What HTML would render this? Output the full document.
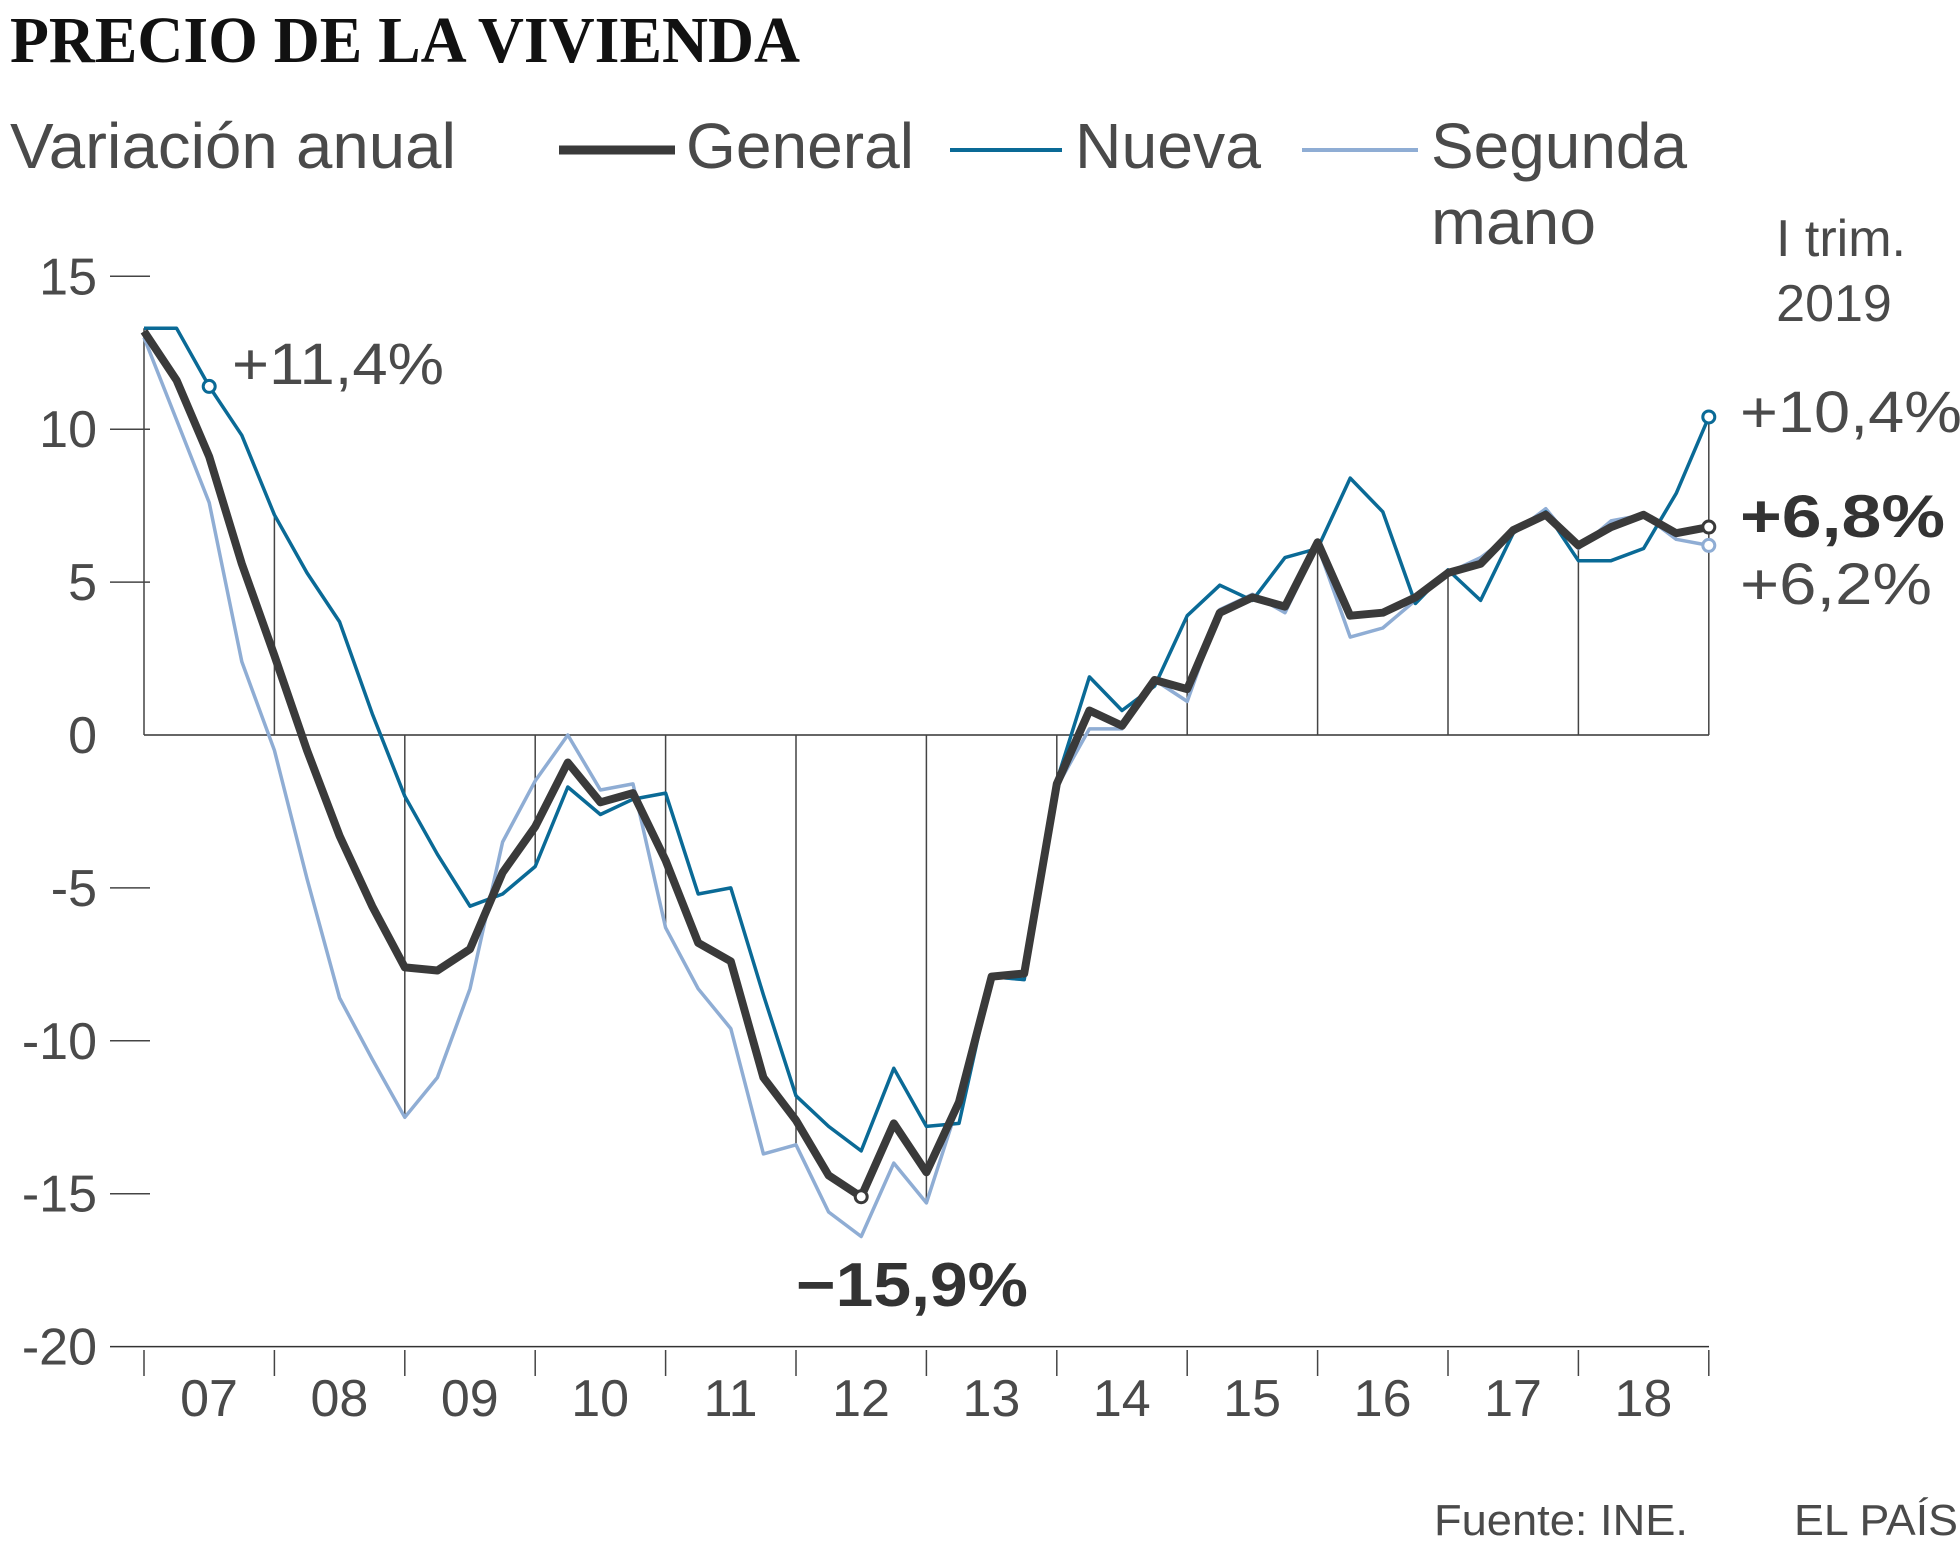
<!DOCTYPE html>
<html><head><meta charset="utf-8"><style>
html,body{margin:0;padding:0;background:#fff;width:1960px;height:1558px;overflow:hidden}
svg{display:block}
.t{font-family:"Liberation Sans Narrow","Liberation Sans",sans-serif;fill:#4a4a4a}
</style></head><body>
<svg id="s" width="1960" height="1558" viewBox="0 0 1960 1558" xmlns="http://www.w3.org/2000/svg">
<text x="10" y="62" font-family="Liberation Serif,serif" font-weight="bold" font-size="66" fill="#111" textLength="790" lengthAdjust="spacingAndGlyphs">PRECIO DE LA VIVIENDA</text>
<text class="t" x="10" y="168" font-size="64" textLength="446" lengthAdjust="spacingAndGlyphs">Variación anual</text>
<line x1="559" y1="150" x2="675" y2="150" stroke="#3a3a3a" stroke-width="9"/>
<text class="t" x="686" y="168" font-size="64" textLength="228" lengthAdjust="spacingAndGlyphs">General</text>
<line x1="950" y1="150" x2="1062" y2="150" stroke="#0a6a96" stroke-width="4"/>
<text class="t" x="1075" y="168" font-size="64" textLength="186" lengthAdjust="spacingAndGlyphs">Nueva</text>
<line x1="1302" y1="150" x2="1418" y2="150" stroke="#8fadd4" stroke-width="4"/>
<text class="t" x="1431" y="168" font-size="64" textLength="256" lengthAdjust="spacingAndGlyphs">Segunda</text>
<text class="t" x="1431" y="244" font-size="64" textLength="165" lengthAdjust="spacingAndGlyphs">mano</text>
<text class="t" x="1906" y="256" font-size="52" text-anchor="end">I trim.</text>
<text class="t" x="1834" y="321" font-size="52" text-anchor="middle">2019</text>
<g id="g"></g>
<text class="t" x="232" y="384" font-size="58" textLength="212" lengthAdjust="spacingAndGlyphs">+11,4%</text>
<text class="t" x="1740" y="432" font-size="58" textLength="222" lengthAdjust="spacingAndGlyphs">+10,4%</text>
<text class="t" x="1740" y="537" font-size="60" font-weight="bold" fill="#333" textLength="205" lengthAdjust="spacingAndGlyphs" style="fill:#333">+6,8%</text>
<text class="t" x="1740" y="604" font-size="58" textLength="192" lengthAdjust="spacingAndGlyphs">+6,2%</text>
<text class="t" x="912" y="1306" font-size="62" font-weight="bold" text-anchor="middle" textLength="232" lengthAdjust="spacingAndGlyphs" style="fill:#333">−15,9%</text>
<text class="t" x="1434" y="1535" font-size="44" fill="#555" textLength="254" lengthAdjust="spacingAndGlyphs">Fuente: INE.</text>
<text class="t" x="1794" y="1535" font-size="44" textLength="164" lengthAdjust="spacingAndGlyphs">EL PAÍS</text>
</svg>
<script>
var G=[13.2,11.6,9.1,5.6,2.6,-0.5,-3.3,-5.6,-7.6,-7.7,-7.0,-4.5,-3.0,-0.9,-2.2,-1.9,-4.1,-6.8,-7.4,-11.2,-12.6,-14.4,-15.1,-12.7,-14.3,-12.0,-7.9,-7.8,-1.6,0.8,0.3,1.8,1.5,4.0,4.5,4.2,6.3,3.9,4.0,4.5,5.3,5.6,6.7,7.2,6.2,6.8,7.2,6.6,6.8];
var N=[13.3,13.3,11.4,9.8,7.2,5.3,3.7,0.7,-2.0,-3.9,-5.6,-5.2,-4.3,-1.7,-2.6,-2.1,-1.9,-5.2,-5.0,-8.5,-11.8,-12.8,-13.6,-10.9,-12.8,-12.7,-7.9,-8.0,-1.5,1.9,0.8,1.6,3.9,4.9,4.4,5.8,6.1,8.4,7.3,4.3,5.4,4.4,6.6,7.3,5.7,5.7,6.1,7.9,10.4];
var S=[13.0,10.3,7.6,2.4,-0.5,-4.7,-8.6,-10.6,-12.5,-11.2,-8.3,-3.5,-1.5,0.0,-1.8,-1.6,-6.3,-8.3,-9.6,-13.7,-13.4,-15.6,-16.4,-14.0,-15.3,-12.0,-7.9,-8.0,-1.7,0.2,0.2,1.8,1.1,4.1,4.6,4.0,6.2,3.2,3.5,4.4,5.3,5.8,6.6,7.4,6.1,7.0,7.2,6.4,6.2];
function X(i){return 144+32.6*i}function Y(v){return 735-v*30.58}
var h='';
[15,10,5,0,-5,-10,-15,-20].forEach(function(v){var y=Y(v);
h+='<text class="t" x="97" y="'+(y+18)+'" font-size="52" text-anchor="end">'+v+'</text>';
if(v!=0&&v!=-20)h+='<line x1="110" x2="150" y1="'+y+'" y2="'+y+'" stroke="#444" stroke-width="1.5"/>';});
h+='<line x1="144" x2="1709" y1="735" y2="735" stroke="#333" stroke-width="1.5"/>';
h+='<line x1="110" x2="1709" y1="'+Y(-20)+'" y2="'+Y(-20)+'" stroke="#333" stroke-width="1.5"/>';
for(var k=0;k<=12;k++){var i=k*4,x=X(i);var mx=Math.max(G[i],N[i],S[i]),mn=Math.min(G[i],N[i],S[i]);var e=mx>0?mx:mn;
h+='<line x1="'+x+'" x2="'+x+'" y1="735" y2="'+Y(e)+'" stroke="#444" stroke-width="1.5"/>';
h+='<line x1="'+x+'" x2="'+x+'" y1="1350" y2="1376" stroke="#444" stroke-width="1.5"/>';
if(k<12)h+='<text class="t" x="'+(x+65)+'" y="1416" font-size="52" text-anchor="middle">'+("0"+(7+k)).slice(-2)+'</text>';}
function pl(a,c,w){return '<polyline fill="none" stroke="'+c+'" stroke-width="'+w+'" stroke-linejoin="round" points="'+a.map(function(v,i){return X(i).toFixed(1)+','+Y(v).toFixed(1)}).join(' ')+'"/>';}
h+=pl(S,'#8fadd4',3.5)+pl(N,'#0a6a96',3.5)+pl(G,'#3a3a3a',8);
function c(i,v,col){return '<circle cx="'+X(i)+'" cy="'+Y(v)+'" r="6" fill="#fff" stroke="'+col+'" stroke-width="3"/>';}
h+=c(2,11.4,'#0a6a96')+c(48,10.4,'#0a6a96')+c(48,6.2,'#8fadd4')+c(48,6.8,'#3a3a3a')+c(22,-15.1,'#3a3a3a');
document.getElementById('g').innerHTML=h;
</script>
</body></html>
